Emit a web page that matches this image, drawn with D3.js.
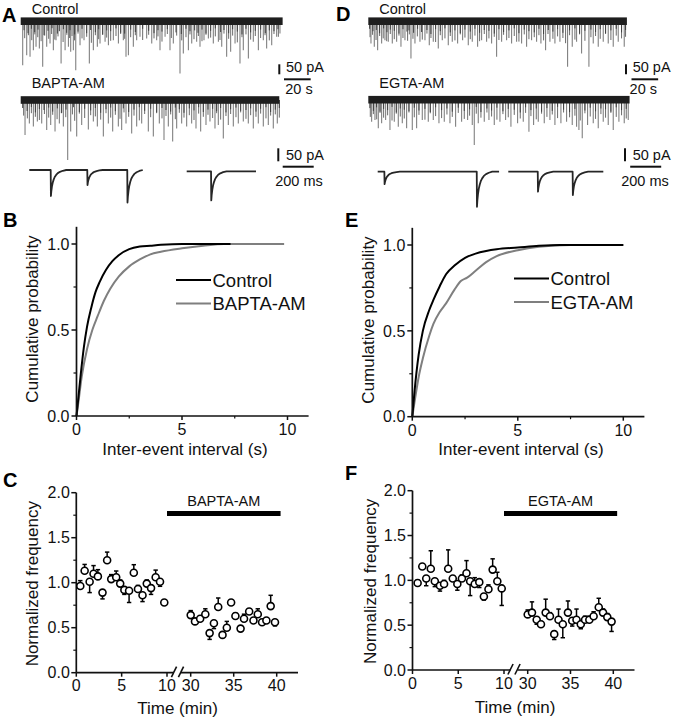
<!DOCTYPE html>
<html><head><meta charset="utf-8">
<script src="https://cdn.jsdelivr.net/npm/d3@7"></script>
<style>
body{margin:0;background:#fff;}
svg{display:block;font-family:"Liberation Sans",Arial,Helvetica,sans-serif;}
</style></head><body>
<svg id="c" width="673" height="720"></svg>
<script>
// ---------- Trace events (time s, amplitude pA) ----------
const ctlA_t = [1.5,4.5,7,9.5,11.5,14,16.5,19.5,22,24.5,26.5,30.3,33.3,35.8,37.5,39.5,41.3,44.5,47.5,51.5,54.5,57.5,59.5,63.3,65.8,69.5,73.3,77,79,80.8,84.5,87,89.5,94.5,98.3,102,104.5,108.3,112,114.5,119.5,122,125.8,128.3,132,134.5,137.5,140.8,144.5,148.3,150.8,154.5,157.5,160.8,164.5,167,170.8,174.5,178.3,182,184.5,188.3,192,194.5];
const ctlA_amp = [220,170,178,145,128,137,228,128,112,145,95,212,145,128,153,145,245,120,95,212,145,128,112,103,120,95,112,95,178,170,128,95,78,87,112,95,145,78,145,112,262,162,145,112,103,128,95,87,112,103,128,178,153,112,212,145,187,103,145,95,137,120,78,62];
const ctlA_midT = [3,5.8,8.3,10.6,12.8,15.3,18,21,23.2,25.6,28,31.8,34.6,36.7,38.5,40.4,43,46,49.5,53,56,58.5,61.5,64.5,67.5,71.5,75,78,82.5,86,91.5,96,100,103,106,110,113,117,120.8,124,127,130,133.3,136,139,142.5,146,149.5,152.5,156,159,162.5,166,169,172.5,176,180,183.3,186.5,190,193.3];
const ctlA_midA = [85,70,95,66,80,100,72,88,64,92,76,104,68,84,74,96,62,86,78,108,70,90,66,82,98,74,64,88,80,70,94,68,86,76,102,64,84,72,96,80,66,90,74,100,68,82,76,94,62,88,72,106,80,66,92,74,84,70,96,64,78];
const ctlA_minT = [2.5,5.5,8,10.5,13,17.5,20.5,23.5,27.5,29,32,34.5,37,40.5,43,46,49.5,52.5,56,58.5,61.5,64.5,67.5,71.5,75,78,82.5,86,91.5,96,100,103,106,110,116.5,120.5,124,127,130.5,133,136,139,142.5,146,150,152.5,156,159,162.5,166,169,172.5,176,180,183.5,186.5,190,193];
const ctlA_minA = [45,60,38,55,42,70,48,35,62,50,40,58,45,66,52,38,60,44,55,40,68,46,50,36,58,62,42,54,38,48,60,45,52,40,56,64,38,50,46,58,42,62,48,36,54,44,60,40,52,66,38,56,48,42,60,46,50,40];

const bap_t = [3.25,6.5,9.5,12.5,15.75,19.5,22.5,25.75,29,32,35.25,37.5,42,45.75,50.75,54.5,57.5,62,65.75,69,73.25,75.75,79,83.25,87,90.75,95.75,99.5,104,107.5,110.75,114,117,120.75,124.5,128.25,131.5,135,139,142,145.75,148.25,152,155.75,159.5,163.25,167,170.75,174.5,178.25,182,185.75,189.5,192.5];
const bap_amp = [175,117,133,108,117,150,125,158,117,133,300,158,183,125,147,108,133,183,117,158,133,150,117,167,133,117,158,183,117,200,133,208,142,117,133,117,142,158,125,108,142,125,192,125,133,117,108,117,142,117,133,125,142,117];
const bap_midT = [2.2,5,8,11,14,17.8,21,24,27.3,30.8,33.8,38.8,40.5,44,48,52.5,56,60,64,67.5,71,74.5,77.5,81,85,89,93,97.5,102,106,109,112.5,116,119,122.5,126.5,130,133.5,137,140.5,144,147,150,154,157.5,161.5,165,169,172.5,176.5,180,184,187.5,191,194];
const bap_midA = [78,92,66,84,100,70,88,74,96,64,86,72,104,68,90,76,82,98,66,88,74,94,62,84,78,102,70,86,66,92,80,72,96,64,88,76,100,68,84,74,90,66,98,80,70,86,62,94,76,84,68,92,78,72,88];
const bap_minT = [1.5,4.8,8,11,14,17.5,21,24,27.5,30.5,34,39.5,44,48,52.5,56,60,64,67.5,71,77,81,85,89,93,97.5,102,106,109,112.5,116,119,122.5,126.5,130,133.5,137,140.5,144,147,150,154,157.5,161.5,165,169,172.5,176.5,180,184,187.5,191,194];
const bap_minA = [40,55,35,62,45,50,38,58,42,66,48,36,60,44,52,40,64,46,38,56,42,60,48,36,54,44,62,40,50,58,38,46,64,42,52,36,60,48,44,56,40,62,46,38,54,50,42,58,44,36,60,48,40];

const ctlD_t = [2,4.5,7,10,12.5,15,18,21.25,24.5,27.5,32,35,38.75,42.5,45.75,48.75,52.5,55.5,60,63,67,70.75,75,78,82,85,88.75,92.5,96.25,100,103.75,107.5,111.25,115,118.75,122.5,126.25,129.5,133,136.25,140,143.75,149.5,153,156.25,160,165.5,168.75,172.5,176.25,180,183.75,187.5,192];
const ctlD_amp = [112,128,145,112,95,103,112,103,128,95,187,112,103,95,120,103,137,95,120,103,112,95,120,103,128,95,103,112,178,103,95,112,103,112,128,95,103,112,145,103,112,103,228,128,103,162,228,112,128,103,112,128,103,128];
const ctlD_midT = [1.3,3.2,5.8,8.5,11.2,13.8,16.5,19.5,23,26,29.5,30.8,33.5,36.8,40.5,44,47,50.5,54,57.5,61.5,65,69,72.5,76.5,80,83.5,87,90.5,94.5,98,101.5,105.5,109.5,113,117,120.5,124.5,128,131.5,134.8,138.5,142,146,148,151,155,158.5,162.5,167,170.5,174,178,182,186,190,193];
const ctlD_midA = [80,68,94,74,86,100,64,90,72,84,98,66,88,76,92,62,84,104,70,86,74,96,66,82,90,72,100,64,86,78,94,68,84,74,102,66,90,80,70,96,64,88,76,84,110,70,92,66,98,80,74,88,64,94,72,86,78];
const ctlD_minT = [1,3.5,6,8.5,11.5,14,16.5,19.5,23,26,29,30.5,34,37,40,44,47,50.5,54,57.5,61.5,65,69,72.5,76.5,80,83.5,87,90.5,94.5,98,101.5,105.5,109.5,113,117,120.5,124.5,128,131.5,135,138.5,142,146,151,155,158.5,162.5,167,170.5,174,178,182,186,190,193];
const ctlD_minA = [38,50,44,60,36,55,42,48,62,40,52,46,58,38,54,44,64,40,50,36,56,46,60,42,52,38,58,44,48,62,40,54,46,36,60,42,50,56,38,64,44,52,40,58,46,36,62,48,42,54,40,60,46,38,56,44];

const egta_t = [2.5,5,7.5,10,13,16.25,19.5,22.5,25.5,28.75,33,36.25,40.5,45,48.75,53,57,61.25,65.5,70,74.5,78,79.5,82.5,87,90.5,94.5,98.75,103,107,112,116.25,120.5,124,127.5,132,136.25,140,144.5,148.75,153,156.25,158,160.5,164.5,168.75,172.5,176.25,180,183.75,188,192,195];
const egta_amp = [110,102,143,118,102,152,110,135,118,143,152,143,102,110,102,118,110,118,135,110,102,127,227,118,110,102,127,110,102,135,118,110,160,127,110,118,102,127,118,110,127,135,152,193,127,118,143,110,127,152,110,118,102];
const egta_midT = [1.5,3.8,6.3,8.8,11.5,14.5,17.8,21,24,27,30.5,34.5,38,42.5,46.5,50.5,55,59,63,67.5,72,76,81,84.5,89,92.5,96.5,101,105,109.5,114,118,122,126,130,134,138,142,146.5,151,155,159,162.5,166.5,170.5,174.5,178,182,186,190,193.5];
const egta_midA = [86,72,98,66,90,78,104,70,84,94,64,88,76,100,68,82,92,74,86,66,96,80,70,90,64,84,100,72,88,76,94,66,82,98,70,86,74,92,64,88,80,104,68,84,96,72,90,66,86,78,94];
const egta_minT = [1.2,3.8,6.2,8.8,11.5,14.5,17.8,21,24,27,30.5,34.5,38,42.5,46.5,50.5,55,59,63,67.5,72,76,81,84.5,89,92.5,96.5,101,105,109.5,114,118,122,126,130,134,138,142,146.5,151,155,162.5,166.5,170.5,174.5,178,182,186,190,193.5];
const egta_minA = [42,56,38,60,46,52,36,64,44,50,58,40,54,46,62,38,52,44,60,40,56,48,36,62,44,54,40,58,46,50,64,38,52,44,60,42,56,36,50,62,46,54,40,58,44,48,60,38,52,46];

// ---------- Inset events (ms, pA) ----------
const evTemplateT = [0,1.5,4,8,13,19,26,35,46,60,78,100];
const evTemplateV = [0,1,0.82,0.64,0.49,0.37,0.27,0.19,0.12,0.07,0.03,0];
const insA1_t = [138,374,632], insA1_amp = [100,58,125];
const insA2_t = [157], insA2_amp = [112];
const insD1_t = [43,639], insD1_amp = [48,135];
const insD2_t = [190,415], insD2_amp = [77,90];

// ---------- Cumulative probability ----------
const cdfB_ctl_t = [0,0.1,0.2,0.35,0.5,0.7,0.9,1.1,1.4,1.7,2.0,2.5,3.0,3.5,4.0,5.0,6.0,7.3];
const cdfB_ctl_p = [0,0.12,0.24,0.4,0.52,0.63,0.72,0.78,0.85,0.9,0.935,0.97,0.985,0.99,0.995,1,1,1];
const cdfB_bap_t = [0,0.1,0.25,0.5,0.75,1.0,1.3,1.6,2.0,2.5,3.0,3.5,4.0,5.0,6.0,7.0,9.84];
const cdfB_bap_p = [0,0.09,0.23,0.39,0.5,0.58,0.67,0.74,0.81,0.87,0.91,0.94,0.955,0.975,0.99,1,1];
const cdfE_ctl_t = [0,0.1,0.3,0.5,0.8,1.0,1.3,1.6,2.0,2.5,3.0,3.5,4,5,6,7,10];
const cdfE_ctl_p = [0,0.14,0.36,0.5,0.62,0.68,0.76,0.83,0.88,0.925,0.95,0.965,0.975,0.985,0.995,1,1];
const cdfE_egt_t = [0,0.1,0.3,0.5,0.8,1.0,1.3,1.6,2.0,2.3,2.6,3.0,3.5,4.0,5.0,6.0,7.5,10];
const cdfE_egt_p = [0,0.08,0.23,0.34,0.47,0.54,0.61,0.66,0.74,0.79,0.81,0.85,0.9,0.935,0.97,0.99,1,1];
const cdfXTicks = [0,5,10], cdfXMinor = [2.5,7.5];
const cdfYTicks = [0,0.5,1.0], cdfYMinor = [0.25,0.75];

// ---------- Normalized frequency time course ----------
const tcC_pre_t = [0.44,0.92,1.47,1.9,2.38,2.89,3.4,3.85,4.4,4.84,5.3,5.82,6.34,6.8,7.3,7.77,8.24,8.75,9.23,9.7];
const tcC_pre_v = [0.963,1.133,1.01,1.10,1.07,0.89,1.25,1.04,1.06,0.99,0.92,0.91,1.11,0.93,0.86,0.99,0.94,1.06,1.01,0.78];
const tcC_pre_e = [0.06,0.07,-0.12,0.09,0.075,-0.07,0.09,0.05,0.07,0.04,-0.05,-0.13,0.09,0.04,-0.07,0.04,-0.07,0.08,-0.05,0.02];
const tcC_post_t = [30.0,30.5,31.1,31.7,32.2,32.7,33.2,33.7,34.2,34.7,35.2,35.8,36.2,36.8,37.3,37.8,38.3,38.8,39.3,39.8];
const tcC_post_v = [0.64,0.57,0.60,0.65,0.44,0.55,0.73,0.42,0.50,0.78,0.63,0.49,0.60,0.68,0.58,0.65,0.56,0.58,0.74,0.56];
const tcC_post_e = [0.05,0.03,0.03,0.06,-0.07,-0.06,0.1,0.02,0.07,0.02,0.03,0.03,0.05,0.03,0.03,0.06,0.03,0.03,0.12,-0.04];
const tcF_pre_t = [0.56,1.07,1.5,2.0,2.44,3.0,3.45,3.9,4.4,4.9,5.4,5.9,6.3,6.8,7.3,7.8,8.3,8.76,9.27,9.75];
const tcF_pre_v = [0.97,1.155,1.02,1.13,0.99,0.94,0.96,1.13,1.02,0.96,1.02,1.08,0.99,0.96,0.98,0.82,0.9,1.12,0.99,0.91];
const tcF_pre_e = [0.03,0.01,-0.08,0.2,-0.06,-0.06,0.04,0.21,-0.03,-0.07,0.04,0.14,-0.16,0.07,-0.06,-0.04,0.05,0.12,0.1,-0.19];
const tcF_post_t = [30,30.5,31.05,31.55,32.1,32.6,33.1,33.6,34.1,34.7,35.2,35.7,36.2,36.7,37.2,37.7,38.3,38.8,39.3,39.8];
const tcF_post_v = [0.62,0.64,0.56,0.51,0.64,0.60,0.40,0.56,0.51,0.64,0.55,0.56,0.51,0.56,0.56,0.60,0.70,0.64,0.59,0.54];
const tcF_post_e = [0.05,0.12,-0.05,0.03,0.15,0.04,-0.06,0.12,-0.15,0.13,-0.06,0.12,-0.05,0.04,0.04,0.05,0.1,0.04,0.04,-0.11];
const tcYTicks = [0,0.5,1.0,1.5,2.0], tcYMinor = [0.25,0.75,1.25,1.75];
const tcXPre = [0,5,10], tcXPost = [30,35,40];

// ================= drawing =================
const svg = d3.select('#c');
const INK = '#111';
function txt(x, y, s, o = {}) {
  return svg.append('text').attr('x', x).attr('y', y).text(s)
    .attr('font-size', o.size || 16).attr('fill', o.fill || INK)
    .attr('text-anchor', o.anchor || 'start')
    .attr('font-weight', o.weight || 'normal')
    .attr('dy', o.dy || null);
}
function ln(x1, y1, x2, y2, w, c) {
  return svg.append('line').attr('x1', x1).attr('y1', y1).attr('x2', x2).attr('y2', y2)
    .attr('stroke', c || INK).attr('stroke-width', w || 1.7);
}
function pairs(a, b) { return d3.range(Math.min(a.length, b.length)).map(i => [a[i], b[i]]); }

// ---- raw traces ----
function trace(x0, baseY, T, mT, mA, dT, dA, nT, nA) {
  const xs = d3.scaleLinear().domain([0, T]).range([x0, x0 + T * 1.333]);
  const ys = d3.scaleLinear().domain([0, 100]).range([baseY, baseY + 20]);
  const g = svg.append('g');
  const spikes = (data, col, w) => g.append('g').selectAll('line').data(data).join('line')
    .attr('x1', d => xs(d[0])).attr('x2', d => xs(d[0]))
    .attr('y1', ys(0)).attr('y2', d => ys(d[1]))
    .attr('stroke', col).attr('stroke-width', w);
  spikes(pairs(mT, mA), '#808080', 1.1);
  spikes(pairs(dT, dA), '#6a6a6a', 1);
  spikes(pairs(nT, nA), '#404040', 1);
  g.append('rect').attr('x', xs(0)).attr('width', xs(T) - xs(0))
    .attr('y', ys(-19)).attr('height', ys(19) - ys(-19)).attr('fill', '#1e1e1e');
  return { xs, ys };
}
const trA1 = trace(20.7, 21.2, 196.5, ctlA_t, ctlA_amp, ctlA_midT, ctlA_midA, ctlA_minT, ctlA_minA);
trace(20.7, 100, 194, bap_t, bap_amp, bap_midT, bap_midA, bap_minT, bap_minA);
const trD1 = trace(368.3, 21.2, 194, ctlD_t, ctlD_amp, ctlD_midT, ctlD_midA, ctlD_minT, ctlD_minA);
trace(368.3, 99.7, 196, egta_t, egta_amp, egta_midT, egta_midA, egta_minT, egta_minA);

function inset(x0, baseY, D, evT, evA) {
  const xs = d3.scaleLinear().domain([0, D]).range([x0, x0 + D * 0.155]);
  const ys = d3.scaleLinear().domain([0, 100]).range([baseY, baseY + 26]);
  let pts = [[0, 0]];
  evT.forEach((t, i) => {
    evTemplateT.forEach((dt, j) => pts.push([t + dt, evTemplateV[j] * evA[i]]));
  });
  pts.push([D, 0]);
  pts.sort((a, b) => a[0] - b[0]);
  svg.append('path').attr('d', d3.line().x(d => xs(d[0])).y(d => ys(d[1]))(pts))
    .attr('fill', 'none').attr('stroke', '#262626').attr('stroke-width', 1.8)
    .attr('stroke-linejoin', 'round');
  return { xs, ys };
}
const inA1 = inset(29.3, 170, 732, insA1_t, insA1_amp);
inset(186.7, 171.3, 447, insA2_t, insA2_amp);
const inD1 = inset(377.7, 171.7, 783, insD1_t, insD1_amp);
inset(508.3, 171.7, 613, insD2_t, insD2_amp);

// scale bars
function scaleBars(tr, ins, vx, hx, lx, hc, ins2c) {
  const v = tr.ys(50) - tr.ys(0), h = tr.xs(20) - tr.xs(0);
  ln(vx, 64.3, vx, 64.3 + v, 2);
  ln(hx, 79.3, hx + h, 79.3, 2);
  txt(lx, 71.5, '50 pA', { size: 14.5 });
  txt(hc, 94, '20 s', { size: 14.5, anchor: 'middle' });
  const v2 = ins.ys(50) - ins.ys(0), h2 = ins.xs(200) - ins.xs(0);
  ln(vx - 1, 148.3, vx - 1, 148.3 + v2, 2);
  ln(hx - 1.3, 166.7, hx - 1.3 + h2, 166.7, 2);
  txt(lx, 159.5, '50 pA', { size: 14.5 });
  txt(ins2c, 186, '200 ms', { size: 14.5, anchor: 'middle' });
}
scaleBars(trA1, inA1, 279.3, 284, 286, 299, 299);
scaleBars(trD1, inD1, 626, 631.5, 632.7, 643.3, 645);

txt(31.7, 13.5, 'Control', { size: 14.5 });
txt(31.7, 88.3, 'BAPTA-AM', { size: 14.5 });
txt(379.3, 13.5, 'Control', { size: 14.5 });
txt(379.3, 88.3, 'EGTA-AM', { size: 14.5 });

// panel letters
[['A', 2, 21.5], ['D', 336, 20.5], ['B', 3, 226.5], ['E', 345, 226.5], ['C', 3, 487], ['F', 345, 480]]
  .forEach(d => txt(d[1], d[2], d[0], { size: 20, weight: 'bold', fill: '#000' }));

// ---- CDF panels ----
function cdfPanel(ax, yb, y1, titleX, titleYc, ctl, drug, drugName, legX, legY) {
  const x = d3.scaleLinear().domain([0, 11]).range([ax, ax + 11 * 21.1]);
  const y = d3.scaleLinear().domain([0, 1]).range([yb, y1]);
  const line = d3.line().x(d => x(d[0])).y(d => y(d[1])).curve(d3.curveMonotoneX);
  svg.append('path').attr('d', line(drug)).attr('fill', 'none').attr('stroke', '#7f7f7f').attr('stroke-width', 2);
  svg.append('path').attr('d', line(ctl)).attr('fill', 'none').attr('stroke', '#000').attr('stroke-width', 2);
  ln(ax, y(0), ax, y(1.1));
  ln(ax, y(0), x(11), y(0));
  cdfYTicks.forEach(v => { ln(ax - 5, y(v), ax, y(v), 1.5); txt(ax - 7, y(v), d3.format('.1f')(v), { anchor: 'end', dy: '0.36em' }); });
  cdfYMinor.forEach(v => ln(ax - 3, y(v), ax, y(v), 1.2));
  cdfXTicks.forEach(v => { ln(x(v), y(0), x(v), y(0) + 4, 1.5); txt(x(v), y(0) + 19, String(v), { anchor: 'middle' }); });
  cdfXMinor.forEach(v => ln(x(v), y(0), x(v), y(0) + 2.5, 1.2));
  txt(titleX, yb + 38.5, 'Inter-event interval (s)', { size: 17, anchor: 'middle' });
  svg.append('text').attr('transform', `translate(${ax - 44.5},${titleYc}) rotate(-90)`)
    .attr('text-anchor', 'middle').attr('dy', '0.36em').attr('font-size', 17).attr('fill', INK)
    .text('Cumulative probability');
  ln(legX, legY, legX + 35, legY, 2, '#000');
  ln(legX, legY + 23.5, legX + 35, legY + 23.5, 2, '#7f7f7f');
  txt(legX + 36.5, legY, 'Control', { size: 18.5, dy: '0.36em' });
  txt(legX + 36.5, legY + 23.5, drugName, { size: 18.5, dy: '0.36em' });
}
cdfPanel(76.5, 416, 244, 185, 319, pairs(cdfB_ctl_t, cdfB_ctl_p), pairs(cdfB_bap_t, cdfB_bap_p), 'BAPTA-AM', 176, 280);
cdfPanel(412.3, 416.7, 245, 521, 320, pairs(cdfE_ctl_t, cdfE_ctl_p), pairs(cdfE_egt_t, cdfE_egt_p), 'EGTA-AM', 514, 278.5);

// ---- time course panels ----
function tcPanel(p, pre, post, drugName) {
  const y = d3.scaleLinear().domain([0, 2]).range([p.yb, p.yt]);
  const xPre = d3.scaleLinear().domain([0, 10]).range([p.ax, p.x10]);
  const xPost = d3.scaleLinear().domain([30, 40]).range([p.x30, p.x40]);
  ln(p.ax, y(0), p.ax, y(2));
  ln(p.ax, y(0), p.b1, y(0));
  ln(p.b2, y(0), p.xend, y(0));
  [p.b1, p.b2].forEach(b => ln(b - 2.6, y(0) + 4.5, b + 2.6, y(0) - 6, 1.6));
  tcYTicks.forEach(v => { ln(p.ax - 5, y(v), p.ax, y(v), 1.5); txt(p.ax - 6.5, y(v), d3.format('.1f')(v), { anchor: 'end', dy: '0.36em' }); });
  tcYMinor.forEach(v => ln(p.ax - 3, y(v), p.ax, y(v), 1.2));
  tcXPre.forEach(v => { ln(xPre(v), y(0), xPre(v), y(0) + 4, 1.5); txt(xPre(v), y(0) + 18.5, String(v), { anchor: 'middle' }); });
  tcXPost.forEach(v => { ln(xPost(v), y(0), xPost(v), y(0) + 4, 1.5); txt(xPost(v), y(0) + 18.5, String(v), { anchor: 'middle' }); });
  const bx1 = xPre(10), bx2 = xPost(40.45);
  svg.append('rect').attr('x', bx1).attr('y', 511).attr('width', bx2 - bx1).attr('height', 5).attr('fill', '#000');
  txt((bx1 + bx2) / 2, 505.5, drugName, { size: 14.5, anchor: 'middle' });
  txt(p.tx, p.tyb, 'Time (min)', { size: 17, anchor: 'middle' });
  svg.append('text').attr('transform', `translate(${p.ylx},${(p.yb + p.yt) / 2 + 1}) rotate(-90)`)
    .attr('text-anchor', 'middle').attr('dy', '0.36em').attr('font-size', 17).attr('fill', INK)
    .text('Normalized frequency');
  const pts = pre.map(d => ({ x: xPre(d[0]), v: d[1], e: d[2] }))
    .concat(post.map(d => ({ x: xPost(d[0]), v: d[1], e: d[2] })));
  const g = svg.append('g');
  pts.forEach(d => {
    const ye = y(d.v + d.e);
    g.append('line').attr('x1', d.x).attr('x2', d.x).attr('y1', y(d.v)).attr('y2', ye).attr('stroke', '#000').attr('stroke-width', 1.5);
    g.append('line').attr('x1', d.x - 2.2).attr('x2', d.x + 2.2).attr('y1', ye).attr('y2', ye).attr('stroke', '#000').attr('stroke-width', 1.5);
  });
  g.selectAll('circle').data(pts).join('circle')
    .attr('cx', d => d.x).attr('cy', d => y(d.v)).attr('r', 3.5)
    .attr('fill', '#fff').attr('stroke', '#000').attr('stroke-width', 1.6);
}
function tri(a, b, c) { return d3.range(a.length).map(i => [a[i], b[i], c[i]]); }
tcPanel({ ax: 76.3, yb: 672.7, yt: 492.7, x10: 167, x30: 190.7, x40: 276.7, b1: 174, b2: 181, xend: 298, tx: 177.5, tyb: 714, ylx: 31.5 },
  tri(tcC_pre_t, tcC_pre_v, tcC_pre_e), tri(tcC_post_t, tcC_post_v, tcC_post_e), 'BAPTA-AM');
tcPanel({ ax: 412.5, yb: 670, yt: 490.7, x10: 504, x30: 527.7, x40: 613.3, b1: 510.5, b2: 517.5, xend: 634.5, tx: 515, tyb: 713, ylx: 370 },
  tri(tcF_pre_t, tcF_pre_v, tcF_pre_e), tri(tcF_post_t, tcF_post_v, tcF_post_e), 'EGTA-AM');
</script>
</body></html>
